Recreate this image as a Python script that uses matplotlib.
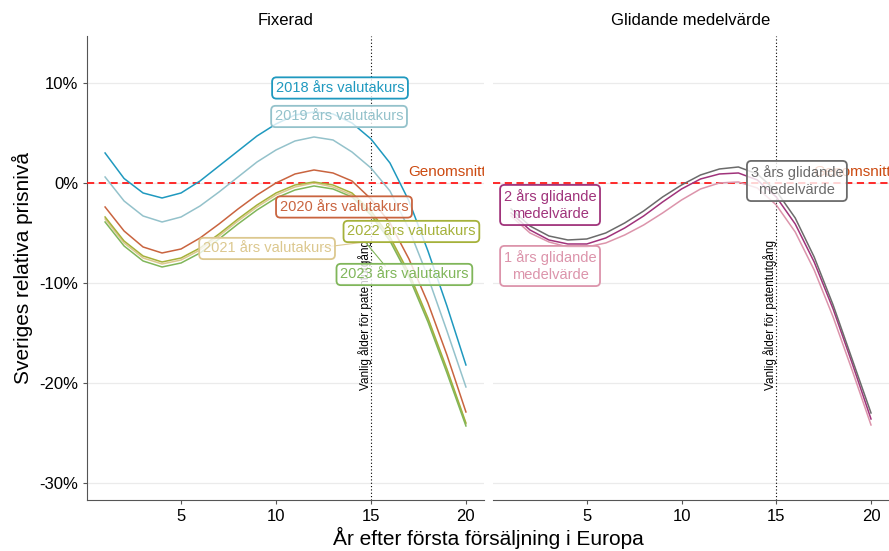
import numpy as np
import matplotlib.pyplot as plt

plt.rcParams['font.family'] = ['Liberation Sans', 'DejaVu Sans']

# years after first sale
ar = np.arange(1, 21)

# Fixerad: relative price level (%) per exchange-rate year
fix_2018 = [3.0, 0.45, -1.0, -1.5, -1.0, 0.2, 1.7, 3.2, 4.7, 5.9,
            6.8, 7.1, 6.9, 6.0, 4.4, 2.0, -1.8, -6.8, -12.3, -18.2]
fix_2019 = [0.6, -1.8, -3.3, -3.9, -3.4, -2.3, -0.9, 0.6, 2.1, 3.3,
            4.2, 4.6, 4.3, 3.1, 1.5, -0.8, -4.6, -9.4, -14.8, -20.4]
fix_2020 = [-2.4, -4.8, -6.4, -7.0, -6.6, -5.5, -4.1, -2.6, -1.2, 0.0,
            0.9, 1.3, 1.0, 0.2, -1.6, -4.0, -7.6, -12.0, -17.2, -22.9]
fix_2021 = [-3.6, -6.0, -7.5, -8.1, -7.7, -6.7, -5.3, -3.8, -2.4, -1.2,
            -0.4, 0.0, -0.4, -1.2, -3.0, -5.6, -9.2, -13.7, -18.8, -24.1]
fix_2022 = [-3.4, -5.8, -7.3, -7.9, -7.5, -6.5, -5.1, -3.6, -2.2, -1.0,
            -0.2, 0.1, -0.2, -1.0, -2.8, -5.4, -9.0, -13.5, -18.6, -24.0]
fix_2023 = [-3.9, -6.3, -7.8, -8.4, -8.0, -7.0, -5.6, -4.1, -2.7, -1.5,
            -0.7, -0.3, -0.6, -1.4, -3.2, -5.8, -9.4, -13.9, -19.0, -24.3]

# Glidande medelvärde
glid_1 = [-3.3, -5.0, -5.9, -6.4, -6.4, -6.0, -5.2, -4.2, -3.0, -1.7,
          -0.6, 0.0, 0.1, -0.5, -2.2, -4.9, -8.7, -13.4, -18.7, -24.2]
glid_2 = [-3.0, -4.7, -5.7, -6.1, -6.1, -5.5, -4.5, -3.3, -1.9, -0.6,
          0.4, 0.9, 1.0, 0.3, -1.4, -4.1, -7.9, -12.6, -18.0, -23.6]
glid_3 = [-2.6, -4.3, -5.3, -5.7, -5.6, -5.0, -4.0, -2.8, -1.4, -0.2,
          0.8, 1.4, 1.6, 0.9, -0.8, -3.5, -7.4, -12.2, -17.6, -23.0]

fix_names = ["2018 års valutakurs", "2019 års valutakurs", "2020 års valutakurs",
             "2021 års valutakurs", "2022 års valutakurs", "2023 års valutakurs"]
glid_names = ["1 års glidande\nmedelvärde", "2 års glidande\nmedelvärde",
              "3 års glidande\nmedelvärde"]
y_ticks = [-30, -20, -10, 0, 10]
x_ticks = [5, 10, 15, 20]

fix_colors = ['#1f99bf', '#94c2cb', '#c9643f', '#dcc88f', '#a5b13a', '#80b65a']
glid_colors = ['#dc94ab', '#a0337b', '#6b6b6b']
fix_label_pos = [(13.37, 9.5), (13.32, 6.65), (13.58, -2.4),
                 (9.53, -6.55), (17.13, -4.85), (16.76, -9.15)]
glid_label_pos = [(3.06, -8.3), (3.06, -2.2), (16.09, 0.2)]

fig = plt.figure(figsize=(8.89, 5.51), dpi=100)
ax1 = fig.add_axes([0.0979, 0.0926, 0.4465, 0.8421])
ax2 = fig.add_axes([0.5546, 0.0926, 0.4454, 0.8421], sharey=ax1)


def style(ax, left):
    ax.set_xlim(0.05, 20.95)
    ax.set_ylim(-31.7, 14.7)
    ax.set_yticks(y_ticks)
    ax.set_yticklabels([f"{t}%" for t in y_ticks])
    ax.set_xticks(x_ticks)
    ax.grid(axis='y', color='#ebebeb', lw=0.9)
    ax.set_axisbelow(True)
    for s in ['top', 'right']:
        ax.spines[s].set_visible(False)
    ax.spines['bottom'].set_color('#555555')
    ax.spines['left'].set_color('#555555')
    ax.spines['left'].set_visible(left)
    ax.tick_params(colors='#555555', labelcolor='black', labelsize=12, length=3)
    if not left:
        ax.tick_params(axis='y', left=False, labelleft=False)
    ax.axhline(0, color='#ff1a1a', ls=(0, (4, 2.5)), lw=1.3, zorder=3)
    ax.axvline(15, color='black', ls=(0, (1, 2)), lw=0.8, zorder=2)
    ax.text(15.05, -20.7, "Vanlig ålder för patentutgång", rotation=90,
            ha='right', va='bottom', fontsize=8.5, zorder=2)
    ax.text(19.0, 0.35, "Genomsnitt", color='#cc4a10', fontsize=11,
            ha='center', va='bottom', zorder=3, clip_on=True)


def label(ax, txt, pos, col):
    ax.text(pos[0], pos[1], txt, color=col, fontsize=10.5, ha='center',
            va='center', zorder=6, linespacing=1.35,
            bbox=dict(boxstyle='round,pad=0.25,rounding_size=0.3',
                      fc=(1, 1, 1, 0.8), ec=col, lw=1.3))


style(ax1, True)
style(ax2, False)

for vals, col in zip([fix_2018, fix_2019, fix_2020, fix_2021, fix_2022, fix_2023],
                     fix_colors):
    ax1.plot(ar, vals, color=col, lw=1.1, zorder=4)
for name, pos, col in zip(fix_names, fix_label_pos, fix_colors):
    label(ax1, name, pos, col)

# repel segments
ax1.plot([12.4, 14.7], [-6.45, -5.9], color=fix_colors[3], lw=0.8, zorder=5)
ax1.plot([14.7, 15.75], [-5.9, -8.3], color=fix_colors[5], lw=0.8, zorder=5)

for vals, col in zip([glid_1, glid_2, glid_3], glid_colors):
    ax2.plot(ar, vals, color=col, lw=1.1, zorder=4)
for name, pos, col in zip(glid_names, glid_label_pos, glid_colors):
    label(ax2, name, pos, col)

ax1.set_title("Fixerad", fontsize=12, pad=8)
ax2.set_title("Glidande medelvärde", fontsize=12, pad=8)
ax1.set_ylabel("Sveriges relativa prisnivå", fontsize=15, labelpad=4)
fig.text(0.549, 0.004, "År efter första försäljning i Europa", fontsize=15,
         ha='center', va='bottom')

fig.savefig("out.png", dpi=100)
